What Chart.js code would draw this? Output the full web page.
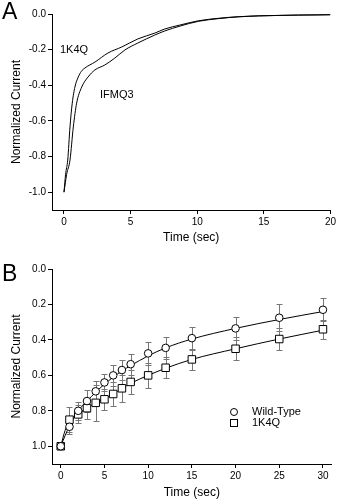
<!DOCTYPE html>
<html>
<head>
<meta charset="utf-8">
<script src="https://cdn.jsdelivr.net/npm/chart.js@4.4.0/dist/chart.umd.min.js"></script>
<style>
  body { margin: 0; background: #fff; width: 338px; height: 500px; position: relative; overflow: hidden;
         font-family: 'Liberation Sans', Arial, sans-serif; }
  .panel { position: absolute; left: 0; width: 338px; height: 250px; }
  .letter { position: absolute; left: 2px; font-size: 23px; line-height: 1; color: #000; }
</style>
</head>
<body>
<div class="panel" style="top:0"><canvas id="chartA" width="338" height="250"></canvas></div>
<div class="panel" style="top:250px"><canvas id="chartB" width="338" height="250"></canvas></div>
<div class="letter" style="top:0">A</div>
<div class="letter" style="top:262px">B</div>
<script>
// --- panel A : current traces
var timeK4Q = [0, 0.12, 0.28, 0.45, 0.62, 0.82, 1.07, 1.3, 1.57, 2.32, 3.3, 4.34, 5.54, 6.82, 7.57, 8.7, 10.1, 11.6, 13.1, 14.6, 16.1, 17.6, 19, 20];
var currK4Q = [-1.0, -0.9, -0.82, -0.634, -0.5, -0.41, -0.354, -0.322, -0.303, -0.27, -0.219, -0.185, -0.14, -0.107, -0.084, -0.062, -0.038, -0.024, -0.015, -0.01, -0.008, -0.006, -0.005, -0.004];
var timeIFMQ3 = [0, 0.2, 0.45, 0.7, 0.95, 1.33, 1.8, 2.32, 3.07, 3.82, 4.57, 5.54, 6.82, 7.57, 8.7, 10.1, 11.6, 13.1, 14.6, 16.1, 17.6, 19, 20];
var currIFMQ3 = [-1.0, -0.9, -0.82, -0.634, -0.5, -0.41, -0.354, -0.314, -0.286, -0.247, -0.202, -0.163, -0.118, -0.095, -0.068, -0.041, -0.026, -0.016, -0.011, -0.008, -0.006, -0.005, -0.004];
var ticksAx = [0, 5, 10, 15, 20];
var ticksAy = [0, -0.2, -0.4, -0.6, -0.8, -1.0];

// --- panel B : recovery
var timeB = [0, 1, 2, 3, 4, 5, 6, 7, 8, 10, 12, 15, 20, 25, 30];
var wtMean = [1.0, 0.89, 0.80, 0.745, 0.69, 0.64, 0.60, 0.57, 0.537, 0.476, 0.445, 0.39, 0.335, 0.275, 0.23];
var wtErr = [0, 0.04, 0.05, 0.06, 0.06, 0.05, 0.06, 0.055, 0.06, 0.065, 0.063, 0.065, 0.065, 0.075, 0.065];
var k4qMean = [1.0, 0.85, 0.82, 0.785, 0.755, 0.735, 0.705, 0.673, 0.637, 0.60, 0.557, 0.51, 0.45, 0.395, 0.34];
var k4qErr = [0, 0.07, 0.05, 0.06, 0.1, 0.06, 0.07, 0.075, 0.07, 0.07, 0.06, 0.06, 0.065, 0.06, 0.055];
var fitTime = [0, 0.5, 1, 1.5, 2, 3, 4, 5, 6, 7, 8, 10, 12, 15, 20, 25, 30];
var wtFit = [1.0, 0.94, 0.885, 0.84, 0.80, 0.745, 0.695, 0.65, 0.61, 0.575, 0.545, 0.49, 0.445, 0.395, 0.335, 0.285, 0.24];
var k4qFit = [1.0, 0.91, 0.855, 0.83, 0.815, 0.785, 0.755, 0.73, 0.705, 0.675, 0.645, 0.60, 0.56, 0.51, 0.45, 0.395, 0.345];
var ticksBx = [0, 5, 10, 15, 20, 25, 30];
var ticksBy = [0, 0.2, 0.4, 0.6, 0.8, 1.0];

var FONT = "'Liberation Sans', Arial, sans-serif";

function pts(xs, ys) {
  return xs.map(function (x, i) { return { x: x, y: ys[i] }; });
}

function axis(min, max, tickVals, fmt, size, title, titlePad, reverse) {
  return {
    type: 'linear', min: min, max: max, reverse: !!reverse,
    afterBuildTicks: function (s) { s.ticks = tickVals.map(function (v) { return { value: v }; }); },
    afterFit: function (s) { if (s.isHorizontal()) s.height = size; else s.width = size; },
    grid: { display: true, drawOnChartArea: false, drawTicks: true, tickLength: 4, color: '#000', lineWidth: 1 },
    border: { display: true, color: '#000', width: 1 },
    ticks: { color: '#000', font: { family: FONT, size: 10 }, padding: 2, maxRotation: 0, autoSkip: false, callback: fmt },
    title: { display: true, text: title, color: '#000', font: { family: FONT, size: 12 }, padding: titlePad }
  };
}

var traceLabels = {
  id: 'traceLabels',
  afterDatasetsDraw: function (chart) {
    var ctx = chart.ctx, x = chart.scales.x, y = chart.scales.y;
    ctx.save();
    ctx.fillStyle = '#000';
    ctx.font = '11px ' + FONT;
    ctx.textBaseline = 'middle';
    ctx.fillText('1K4Q', x.getPixelForValue(-0.3), y.getPixelForValue(-0.202));
    ctx.fillText('IFMQ3', x.getPixelForValue(2.7), y.getPixelForValue(-0.455));
    ctx.restore();
  }
};

new Chart(document.getElementById('chartA'), {
  type: 'line',
  data: {
    datasets: [
      { label: '1K4Q', data: pts(timeK4Q, currK4Q), borderColor: '#000', borderWidth: 1, pointRadius: 0, cubicInterpolationMode: 'monotone' },
      { label: 'IFMQ3', data: pts(timeIFMQ3, currIFMQ3), borderColor: '#000', borderWidth: 1, pointRadius: 0, cubicInterpolationMode: 'monotone' }
    ]
  },
  options: {
    responsive: false, animation: false,
    layout: { padding: { top: 14, right: 7, left: 0, bottom: 0 } },
    plugins: { legend: { display: false }, tooltip: { enabled: false } },
    scales: {
      x: axis(-0.9, 20, ticksAx, function (v) { return v; }, 40, 'Time (sec)', { top: 0, bottom: 5 }),
      y: axis(-1.1, 0, ticksAy, function (v) { return v.toFixed(1); }, 52, 'Normalized Current', { top: 9, bottom: 0 })
    }
  },
  plugins: [traceLabels]
});

var errorBars = {
  id: 'errorBars',
  beforeDatasetsDraw: function (chart) {
    var ctx = chart.ctx, x = chart.scales.x, y = chart.scales.y;
    ctx.save();
    ctx.strokeStyle = '#777';
    ctx.lineWidth = 1;
    [[wtMean, wtErr], [k4qMean, k4qErr]].forEach(function (s) {
      timeB.forEach(function (t, i) {
        if (!s[1][i]) return;
        var px = Math.round(x.getPixelForValue(t)) + 0.5;
        var y1 = Math.round(y.getPixelForValue(s[0][i] - s[1][i])) + 0.5;
        var y2 = Math.round(y.getPixelForValue(s[0][i] + s[1][i])) + 0.5;
        ctx.beginPath();
        ctx.moveTo(px, y1); ctx.lineTo(px, y2);
        ctx.moveTo(px - 3, y1); ctx.lineTo(px + 3, y1);
        ctx.moveTo(px - 3, y2); ctx.lineTo(px + 3, y2);
        ctx.stroke();
      });
    });
    ctx.restore();
  }
};

var keyBox = {
  id: 'keyBox',
  afterDraw: function (chart) {
    var ctx = chart.ctx;
    ctx.save();
    ctx.strokeStyle = '#000';
    ctx.lineWidth = 1;
    ctx.beginPath();
    ctx.arc(234, 162, 3.5, 0, Math.PI * 2);
    ctx.stroke();
    ctx.strokeRect(230.5, 169.5, 7, 7);
    ctx.fillStyle = '#000';
    ctx.font = '11px ' + FONT;
    ctx.textBaseline = 'middle';
    ctx.fillText('Wild-Type', 252, 162);
    ctx.fillText('1K4Q', 252, 173);
    ctx.restore();
  }
};

new Chart(document.getElementById('chartB'), {
  type: 'line',
  data: {
    datasets: [
      { label: 'Wild-Type', data: pts(timeB, wtMean), showLine: false, pointStyle: 'circle', pointRadius: 3.8,
        pointBorderColor: '#000', pointBackgroundColor: '#fff', pointBorderWidth: 1 },
      { label: '1K4Q', data: pts(timeB, k4qMean), showLine: false, pointStyle: 'rect', pointRadius: 5.3,
        pointBorderColor: '#000', pointBackgroundColor: '#fff', pointBorderWidth: 1 },
      { label: 'WT fit', data: pts(fitTime, wtFit), borderColor: '#000', borderWidth: 1, pointRadius: 0, cubicInterpolationMode: 'monotone' },
      { label: '1K4Q fit', data: pts(fitTime, k4qFit), borderColor: '#000', borderWidth: 1, pointRadius: 0, cubicInterpolationMode: 'monotone' }
    ]
  },
  options: {
    responsive: false, animation: false,
    layout: { padding: { top: 19, right: 6, left: 0, bottom: 0 } },
    plugins: { legend: { display: false }, tooltip: { enabled: false } },
    scales: {
      x: axis(-1, 31, ticksBx, function (v) { return v; }, 36, 'Time (sec)', { top: 0, bottom: 0 }),
      y: axis(0, 1.1, ticksBy, function (v) { return v.toFixed(1); }, 52, 'Normalized Current', { top: 9, bottom: 0 }, true)
    }
  },
  plugins: [errorBars, keyBox]
});
</script>
</body>
</html>
